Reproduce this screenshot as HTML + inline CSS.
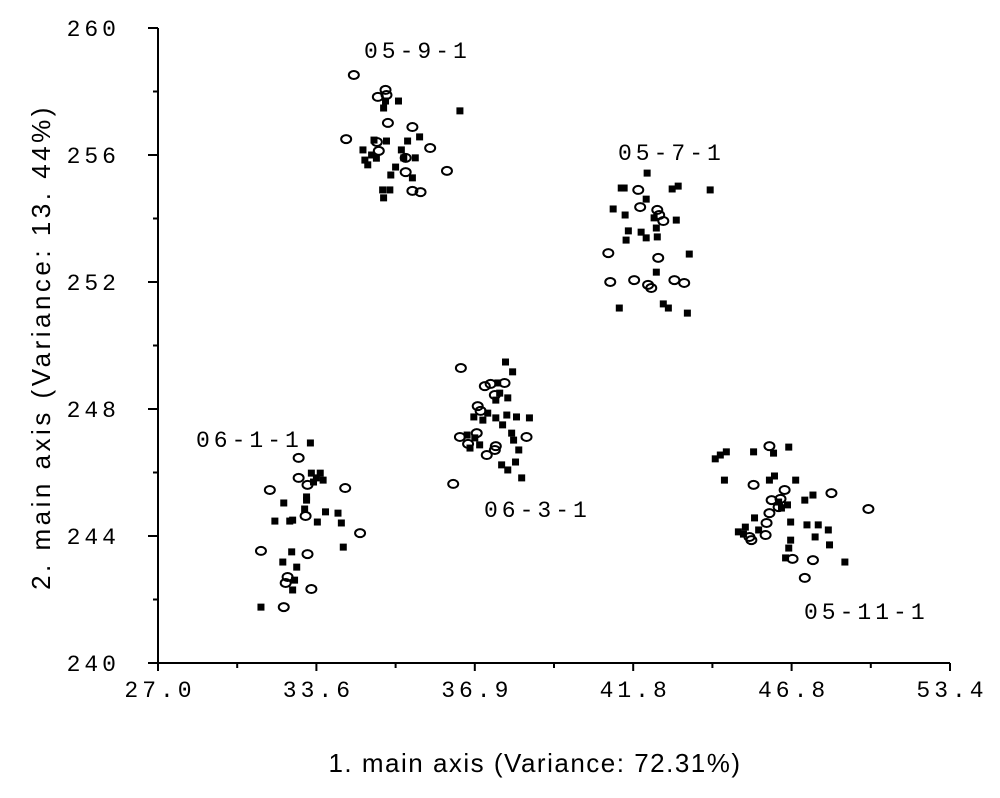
<!DOCTYPE html>
<html><head><meta charset="utf-8"><style>
body{margin:0;background:#fff;}
svg text.m{font-family:"Liberation Mono",monospace;font-size:23px;letter-spacing:4px;fill:#000;}
svg text.s{font-family:"Liberation Sans",sans-serif;font-size:26px;fill:#000;}
</style></head><body>
<svg id="chart" width="1000" height="793" xmlns="http://www.w3.org/2000/svg"></svg>
<script>
const xTickLabels=["27.0","33.6","36.9","41.8","46.8","53.4"];
const yTickLabels=[240,244,248,252,256,260];
const groupNames=["05-9-1","05-7-1","06-1-1","06-3-1","05-11-1"];
const g1Filled=[[35.31,257.70],[35.00,257.48],[34.80,256.47],[35.06,256.44],[35.50,256.44],[35.75,256.57],[34.57,256.16],[34.61,255.84],[34.67,255.69],[35.37,256.16],[35.42,255.91],[35.66,255.91],[35.25,255.62],[35.15,255.37],[35.60,255.28],[34.98,254.90],[35.13,254.90],[35.00,254.65],[36.59,257.39],[35.04,257.70],[34.75,256.0],[34.85,255.9]];
const g1Open=[[34.38,258.52],[35.06,257.89],[34.88,257.83],[35.04,258.05],[35.09,257.01],[35.60,256.88],[34.22,256.50],[34.86,256.41],[35.97,256.22],[34.90,256.13],[35.46,255.91],[35.46,255.46],[35.77,254.83],[35.60,254.87],[36.32,255.50]];
const g2Filled=[[42.24,255.43],[41.43,254.96],[41.52,254.96],[43.03,254.93],[43.22,255.02],[44.23,254.90],[42.21,254.61],[41.18,254.30],[41.55,254.11],[42.46,254.02],[43.16,253.95],[41.65,253.61],[42.05,253.57],[42.53,253.70],[42.56,253.42],[42.21,253.39],[41.58,253.32],[43.57,252.88],[42.53,252.31],[42.75,251.31],[41.37,251.18],[42.91,251.18],[43.51,251.02]];
const g2Open=[[41.96,254.90],[42.02,254.36],[42.56,254.27],[42.62,254.11],[42.75,253.92],[41.03,252.91],[42.59,252.76],[41.09,252.00],[41.83,252.06],[42.27,251.91],[43.10,252.06],[43.41,251.97],[42.37,251.81]];
const g3Filled=[[33.35,246.93],[33.39,245.98],[33.68,245.98],[33.60,245.83],[33.48,245.70],[33.74,245.76],[33.19,245.23],[32.24,245.04],[33.19,245.13],[33.11,244.85],[32.61,244.50],[32.49,244.47],[33.79,244.76],[34.05,244.72],[33.62,244.44],[34.12,244.41],[32.57,243.50],[34.16,243.65],[32.78,243.02],[32.20,243.18],[32.69,242.61],[32.61,242.30],[31.29,241.76],[31.87,244.47]];
const g3Open=[[31.66,245.45],[32.86,246.46],[32.86,245.83],[33.23,245.61],[34.20,245.51],[33.15,244.63],[34.51,244.09],[31.29,243.53],[33.23,243.43],[32.40,242.71],[32.32,242.52],[33.39,242.33],[32.24,241.76]];
const g4Filled=[[37.85,249.48],[38.07,249.17],[37.61,248.82],[37.67,248.50],[37.55,248.28],[37.92,248.35],[36.88,247.75],[37.30,247.87],[37.15,247.65],[37.55,247.72],[37.89,247.81],[38.19,247.75],[38.59,247.72],[37.76,247.50],[38.04,247.24],[38.10,247.02],[36.74,247.18],[36.90,247.09],[37.05,246.87],[36.80,246.77],[38.26,246.71],[38.16,246.33],[37.92,246.08],[37.73,246.24],[38.35,245.83]];
const g4Open=[[36.61,249.29],[37.39,248.79],[37.82,248.82],[37.21,248.72],[37.52,248.44],[36.99,248.09],[37.08,247.94],[36.96,247.24],[36.59,247.12],[36.76,246.90],[37.52,246.71],[37.27,246.55],[37.55,246.83],[38.50,247.12],[36.45,245.64]];
const g5Filled=[[44.39,246.43],[44.55,246.55],[44.74,246.65],[45.60,246.65],[46.23,246.61],[46.71,246.80],[46.26,245.89],[46.10,245.76],[44.68,245.76],[46.97,245.76],[47.69,245.29],[47.35,245.13],[46.67,244.98],[46.39,245.07],[46.48,244.88],[45.63,244.57],[45.34,244.28],[45.12,244.13],[45.76,244.19],[45.28,244.06],[46.77,244.44],[47.44,244.35],[47.91,244.35],[48.33,244.19],[47.78,243.97],[46.77,243.87],[48.38,243.72],[46.71,243.62],[46.61,243.31],[49.02,243.18]];
const g5Open=[[46.10,246.83],[45.60,245.61],[46.58,245.45],[48.46,245.35],[46.17,245.13],[46.45,245.17],[50.0,244.85],[46.10,244.72],[46.39,244.91],[46.01,244.41],[45.98,244.03],[45.47,243.97],[45.53,243.87],[46.84,243.28],[47.69,243.24],[47.35,242.68]];

const NS="http://www.w3.org/2000/svg";
const svg=document.getElementById('chart');
const X0=158,X1=950,Y0=663,Y1=28;
const xTickVals=xTickLabels.map(Number);
function xs(v){
  const n=xTickVals.length-1;
  let i=0; while(i<n-1&&v>xTickVals[i+1])i++;
  const t=(v-xTickVals[i])/(xTickVals[i+1]-xTickVals[i]);
  return X0+(i+t)*(X1-X0)/n;
}
function ys(v){return Y0-(v-240)/20*(Y0-Y1);}
function mk(tag,attrs,parent){const e=document.createElementNS(NS,tag);for(const k in attrs)e.setAttribute(k,attrs[k]);(parent||svg).appendChild(e);return e;}

const ax=mk('line',{x1:X0,y1:Y1,x2:X0,y2:Y0+8,stroke:'#000','stroke-width':2});


const axx=mk('line',{x1:X0-10,y1:Y0,x2:X1,y2:Y0,stroke:'#000','stroke-width':2});


yTickLabels.forEach((v,i)=>{
  const y=ys(v);
  const t=mk('line',{x1:X0-10,y1:y,x2:X0,y2:y,stroke:'#000','stroke-width':2});
  
  
  if(i<yTickLabels.length-1){
    const m=mk('line',{x1:X0-5,y1:ys(v+2),x2:X0,y2:ys(v+2),stroke:'#000','stroke-width':2});
    
    
  }
  const l=mk('text',{x:120,y:y+8,'text-anchor':'end',class:'m'});
  l.textContent=v;
  
  
});
const n=xTickLabels.length-1;
xTickLabels.forEach((s,i)=>{
  const x=X0+i*(X1-X0)/n;
  const t=mk('line',{x1:x,y1:Y0,x2:x,y2:Y0+8,stroke:'#000','stroke-width':2});
  
  
  if(i<n){
    const m=mk('line',{x1:x+(X1-X0)/n/2,y1:Y0,x2:x+(X1-X0)/n/2,y2:Y0+5,stroke:'#000','stroke-width':2});
    
    
  }
  const l=mk('text',{x:x+2,y:Y0+34,'text-anchor':'middle',class:'m'});
  l.textContent=s;
  
  
});
const xt=mk('text',{x:535,y:772,'text-anchor':'middle',class:'s','letter-spacing':'1.5'});
xt.textContent="1. main axis (Variance: 72.31%)";


const yt=mk('text',{x:0,y:0,'text-anchor':'middle',class:'s','letter-spacing':'3.5',transform:'translate(50,347) rotate(-90)'});
yt.textContent="2. main axis (Variance: 13. 44%)";



const groups=[[g1Filled,g1Open],[g2Filled,g2Open],[g3Filled,g3Open],[g4Filled,g4Open],[g5Filled,g5Open]];
const labelPos=[[364,58],[618,160],[196,447],[484,517],[804,619]];
groups.forEach((g,gi)=>{
  g[0].forEach(p=>{
    const r=mk('rect',{x:xs(p[0])-3.5,y:ys(p[1])-3.5,width:7,height:7,fill:'#000'});
    
    
  });
  g[1].forEach(p=>{
    const c=mk('ellipse',{cx:xs(p[0]),cy:ys(p[1]),rx:5,ry:4,fill:'none',stroke:'#000','stroke-width':2});
    
    
  });
  const t=mk('text',{x:labelPos[gi][0],y:labelPos[gi][1],class:'m','letter-spacing':'5'});
  t.textContent=groupNames[gi];
  
  
});
</script>
</body></html>
